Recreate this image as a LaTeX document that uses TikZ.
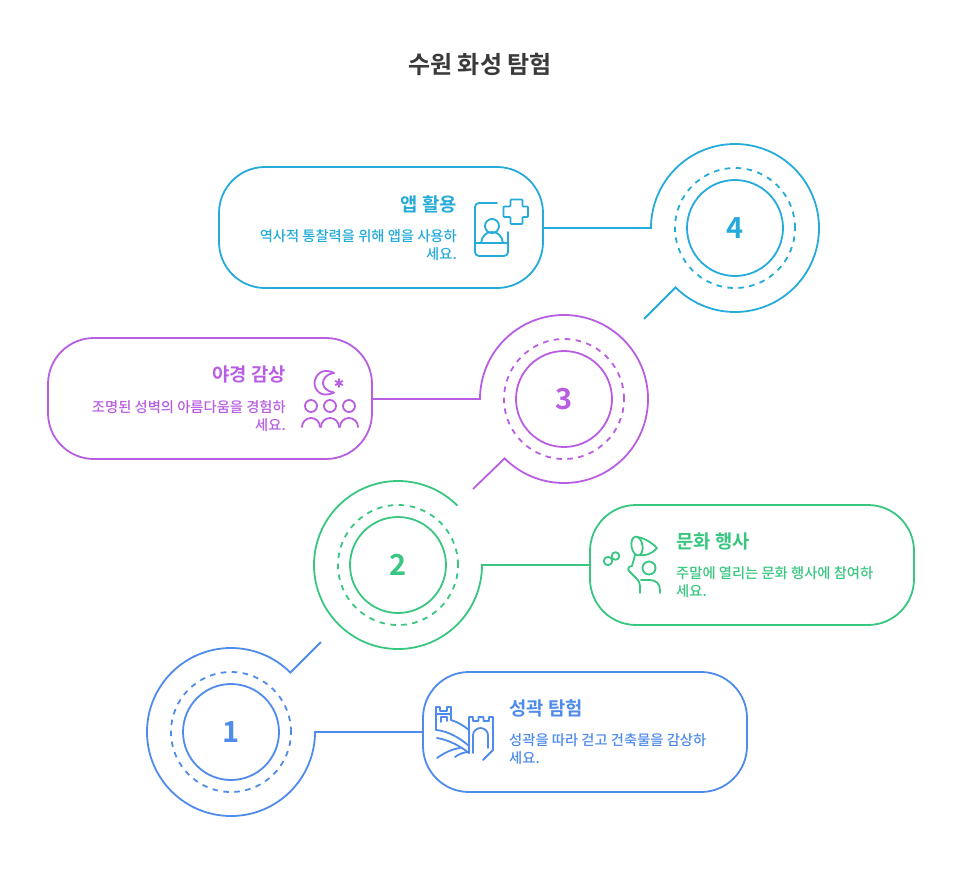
\documentclass[tikz,border=0pt]{standalone}
\usepackage{fontspec}
\setmainfont{Noto Sans CJK KR}[UprightFont=* Medium,BoldFont=* Bold]
\definecolor{cblue}{HTML}{4F8BEA}
\definecolor{cgreen}{HTML}{38C680}
\definecolor{cpurple}{HTML}{B95EE2}
\definecolor{ccyan}{HTML}{24ABDA}
\definecolor{ctitle}{HTML}{3A3A3A}
\tikzset{
  cardbox/.style={draw,line width=1.8pt,rounded corners=46pt,minimum width=324pt,minimum height=120pt,inner sep=0pt,fill=white},
  ring/.style={line width=1.8pt,line join=miter},
  dashring/.style={draw,circle,line width=1.8pt,dash pattern=on 5.5pt off 5.5pt,minimum size=120pt,inner sep=0pt},
  innerring/.style={draw,circle,line width=1.8pt,minimum size=96pt,inner sep=0pt,font=\fontsize{29}{29}\selectfont\bfseries},
  head/.style={inner sep=0pt,font=\fontsize{18.8}{22}\selectfont\bfseries},
  desc/.style={inner sep=0pt,font=\fontsize{14.3}{18}\selectfont},
  icon/.style={line width=1.8pt,line cap=round,line join=round},
  titletext/.style={inner sep=0pt,text=ctitle,font=\fontsize{24}{28}\selectfont\bfseries}
}
\begin{document}
\begin{tikzpicture}[x=1pt,y=-1pt]
\useasboundingbox (0,0) rectangle (960,888);
\node[titletext] (title) at (480,64) {수원 화성 탐험};

%% Step 4
\begin{scope}[color=ccyan]
\node[cardbox,minimum height=121pt] (b4) at (381,227.5) {};
\node[dashring] (d4) at (735,228) {};
\node[innerring,text=ccyan] (n4) at (735,228) {4};
\coordinate (s4) at (651,228);
\coordinate (e4) at (644,319);
\draw[ring] (s4 -| b4.east) -- (s4) arc[start angle=180,end angle=-135,radius=84pt] -- (e4);
\node[head,anchor=east] (h4) at (457,204) {앱 활용};
\node[desc,anchor=east] (t4a) at (457,236) {역사적 통찰력을 위해 앱을 사용하};
\node[desc,anchor=east] (t4b) at (457,254.5) {세요.};
\begin{scope}[icon]
\draw (497,203) -- (479,203) arc[start angle=90,end angle=180,radius=4pt] -- (475,252) arc[start angle=180,end angle=270,radius=4pt] -- (504,256) arc[start angle=270,end angle=360,radius=4pt] -- (508,232);
\draw (475,243) -- (508,243);
\draw (492,226) circle[radius=7pt];
\draw (481,243) .. controls (482,236) and (486,232) .. (492,232) .. controls (498,232) and (502,236) .. (503,243);
\draw[rounded corners=0.8pt] (510.5,199.500) -- (522.5,199.500) -- (522.5,206.5) -- (528,206.5) -- (528,217) -- (522.5,217) -- (522.5,224) -- (510.5,224) -- (510.5,217) -- (503.5,217) -- (503.5,206.5) -- (510.5,206.5) -- cycle;
\end{scope}
\end{scope}

%% Step 3
\begin{scope}[color=cpurple]
\node[cardbox,minimum height=121pt] (b3) at (210,398.5) {};
\node[dashring] (d3) at (564,399) {};
\node[innerring,text=cpurple] (n3) at (564,399) {3};
\coordinate (s3) at (480,399);
\coordinate (e3) at (473,489);
\draw[ring] (s3 -| b3.east) -- (s3) arc[start angle=180,end angle=-135,radius=84pt] -- (e3);
\node[head,anchor=east] (h3) at (286,374) {야경 감상};
\node[desc,anchor=east] (t3a) at (286,407) {조명된 성벽의 아름다움을 경험하};
\node[desc,anchor=east] (t3b) at (286,425.5) {세요.};
\begin{scope}[icon]
\draw (334,373) .. controls (320,366) and (314.500,378) .. (314.500,383) .. controls (314.500,389) and (320,399) .. (334,392.500);
\draw (334,373) .. controls (326,374) and (323,379) .. (323,383) .. controls (323,387) and (326,391) .. (334,392.500);
\draw (339,379) -- (339,387) (335.500,381) -- (342.500,385) (335.500,385) -- (342.500,381);
\foreach \cx in {311,330,349}{
  \draw (\cx,406) circle[radius=6pt];
  \draw (\cx-9,427) arc[start angle=180,end angle=0,radius=9pt];
}
\end{scope}
\end{scope}

%% Step 2
\begin{scope}[color=cgreen]
\node[cardbox] (b2) at (752,565) {};
\node[dashring] (d2) at (398,565) {};
\node[innerring,text=cgreen] (n2) at (398,565) {2};
\coordinate (s2) at (482,565);
\draw[ring] (b2.west) -- (s2) arc[start angle=0,end angle=-315,radius=84pt];
\node[head,anchor=west] (h2) at (676,541) {문화 행사};
\node[desc,anchor=west] (t2a) at (676,573) {주말에 열리는 문화 행사에 참여하};
\node[desc,anchor=west] (t2b) at (676,591.5) {세요.};
\begin{scope}[icon]
\draw (608,561) circle[radius=4.2pt];
\draw (615.500,556) circle[radius=3.8pt];
\draw[rotate around={10:(637,546)}] (637,546) ellipse[x radius=5.5pt,y radius=9.5pt];
\draw (637,537) .. controls (645,538) and (652,543) .. (657,548) .. controls (652,554) and (645,556) .. (640,555);
\draw (635,555) -- (632,566);
\draw (632,566) .. controls (629,566) and (627,569) .. (629,571) -- (636,578) .. controls (639,581) and (640,583) .. (640,586) -- (640,593);
\draw (649,568) circle[radius=6.5pt];
\draw (641,580) -- (650,580) .. controls (656,580) and (660,584) .. (660,590) -- (660,593);
\end{scope}
\end{scope}

%% Step 1
\begin{scope}[color=cblue]
\node[cardbox] (b1) at (585,732) {};
\node[dashring] (d1) at (231,732) {};
\node[innerring,text=cblue] (n1) at (231,732) {1};
\coordinate (s1) at (315,732);
\coordinate (e1) at (321,642);
\draw[ring] (b1.west) -- (s1) arc[start angle=0,end angle=-315,radius=84pt] -- (e1);
\node[head,anchor=west] (h1) at (509,708) {성곽 탐험};
\node[desc,anchor=west] (t1a) at (509,740) {성곽을 따라 걷고 건축물을 감상하};
\node[desc,anchor=west] (t1b) at (509,758.5) {세요.};
\begin{scope}[icon]
\draw (436,730) -- (436,707) -- (440,707) -- (440,711) -- (447,711) -- (447,707) -- (451,707) -- (451,720);
\draw (436,714) -- (451,714);
\draw (441,722) -- (441,717) -- (447,717) -- (447,721);
\draw (436,730) .. controls (448,731) and (460,738) .. (469,746);
\draw (451,720) .. controls (458,722) and (464,726) .. (469,730);
\draw (437,738) .. controls (449,740) and (460,746) .. (469,753);
\draw (469,753) -- (469,717) -- (473,717) -- (473,721) -- (478.500,721) -- (478.500,717) -- (483.500,717) -- (483.500,721) -- (489,721) -- (489,717) -- (493,717) -- (493,750) -- (483,760);
\draw (473,753) -- (473,735) .. controls (473,731) and (477,728) .. (480.500,728) .. controls (484,728) and (488,731) .. (488,735) -- (488,748);
\draw (437,758) .. controls (444,753) and (452,749) .. (460,748);
\draw (455,757) .. controls (459,754) and (464,752) .. (469,752);
\end{scope}
\end{scope}
\end{tikzpicture}
\end{document}
